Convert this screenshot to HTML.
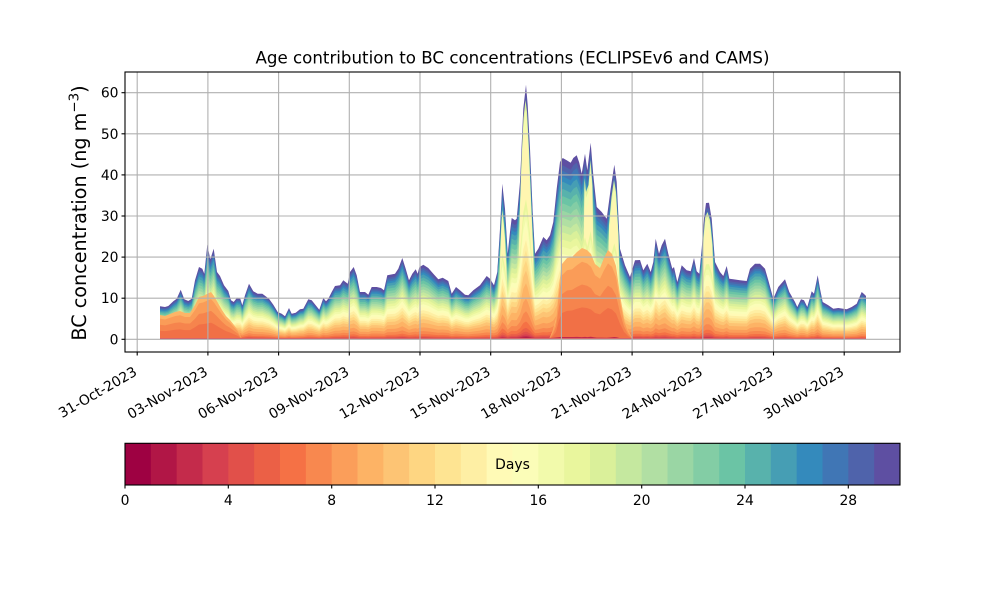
<!DOCTYPE html>
<html>
<head>
<meta charset="utf-8">
<style>
html,body{margin:0;padding:0;background:#fff;}
svg{display:block;}
text{font-family:"DejaVu Sans","Liberation Sans",sans-serif;fill:#000;}
</style>
</head>
<body>
<svg width="1000" height="600" viewBox="0 0 1000 600" xmlns="http://www.w3.org/2000/svg">
<rect x="0" y="0" width="1000" height="600" fill="#fff"/>
<defs>
<path id="T" d="M160,339.3 L160,306.3 L165,307 L168.3,306 L173.3,301.3 L176.7,298.7 L180.7,289.7 L184.3,299.3 L188.3,301 L191.7,298.7 L195,280.3 L199,267 L202.3,268.7 L204.3,273.7 L207.3,244.7 L210.3,259.3 L213.7,248.7 L217,272 L220,276 L224,285.3 L228.3,291 L231,300.3 L233.7,302 L237,297.7 L240.3,298.7 L242.3,305.3 L245,295.3 L249,283.7 L253.3,291.3 L257.7,293.7 L262.3,293.7 L269,298.7 L273.3,304.7 L277.7,312 L281.7,313.7 L285,316.3 L289,308 L291.7,313.7 L295.7,312.7 L300,309.3 L303.3,308.7 L308.3,299.3 L311.7,300.3 L315.7,305.3 L319.3,309.7 L323.3,298 L326,301.3 L328.3,298.7 L331.7,292 L335,286 L340,285.3 L343.3,280.3 L347.7,283.7 L350,272 L353.7,267 L356.7,275.3 L360,292 L365,292 L368.3,294.7 L371.7,287 L376.7,287 L381,288 L384,290.3 L387.3,275.3 L395,273.7 L398.3,268.7 L402.3,258 L405.7,268.7 L409,280.3 L412.3,273.7 L415.7,269.3 L417.7,273.7 L419.3,267.3 L423.3,264.7 L428.3,268 L433.3,273.7 L438.3,279.3 L442.7,277.7 L448.3,281 L451.7,293.7 L456,287 L460,290.3 L465,294.7 L468.3,295.3 L473.3,290.3 L480,285.3 L486.7,276 L490,278.7 L494,285.3 L497.3,272 L500,228.7 L502.3,183.7 L505,208.7 L507.7,253.7 L510,232 L511.7,218 L515,220.3 L516.7,218.7 L520,182 L523.3,108.7 L526,84.7 L527.7,105.3 L530,148.7 L532.7,212 L535,253.7 L538.3,248.7 L543.3,237 L546.7,240.3 L550,235.3 L553.3,222 L556.7,188.7 L560,162 L562.7,158 L566.7,160.3 L570.7,162.7 L573.3,158 L576.7,155.3 L579.3,162.7 L581.7,173.7 L585,153.7 L587.3,170.3 L590.7,142.7 L593.3,175.3 L596.7,207 L601.7,212 L606.7,218.7 L610.7,188.7 L614.3,164.7 L616.7,182 L620,248.7 L625,265.3 L630,277 L635,260.3 L640,260 L643.3,270.3 L647.3,263.7 L650.7,272 L653.3,262 L655.7,238.7 L659,253.7 L661.7,245.3 L665,238.7 L668.3,253.7 L672.3,268.7 L674,267 L677.3,282 L681.7,265.3 L686.7,270.3 L690.7,271.3 L694,258 L696.7,271.3 L699.3,273.7 L701.7,248.7 L704,218.7 L706,203 L709,202.7 L711.7,218.7 L715,262 L720,272 L723.3,276 L726.7,266 L729.3,278.7 L733.3,279.3 L740,280.3 L746.7,281 L750,268.7 L755,263.7 L760,263.7 L765,268.7 L768.3,280.3 L773.3,298.7 L778.3,287 L785,279.3 L789.3,292 L795,302 L797.3,307 L801,299.3 L804,300.3 L807.3,307 L811.7,291.3 L814,293.7 L817.7,275.3 L820,288.7 L822.7,302 L828.3,305.3 L833.3,308.7 L838.3,308 L843.3,308.7 L846.7,309.3 L851.7,307 L856.7,303.7 L861.7,292 L864,294 L866,296 L866,339.3 Z"/>
<path id="Y" d="M499,339.3 L500.3,250 L501.5,222 L502.3,210 L503.5,220 L505,238 L506.5,270 L507.3,339.3 Z
M518,339.3 L519.5,220 L521.5,160 L523.5,118 L525.5,100 L527,112 L529,150 L531,200 L533,245 L535,339.3 Z
M583,339.3 L584.5,178 L586,192 L588.5,185 L590.5,160 L592.5,186 L594,339.3 Z
M607,339.3 L609,225 L611.5,197 L614,180 L616,192 L618.5,235 L620,339.3 Z
M701,339.3 L703,245 L705,218 L707.5,212 L710,220 L712.5,245 L714.5,339.3 Z"/>
<path id="O" d="M549,339.3 L553,330 L556,318 L559,285 L562,264 L567,258 L572,257 L577,252 L582,248 L587,250 L591,254 L595,264 L600,268 L604,258 L608,250 L612,254 L616,266 L620,295 L624,318 L628,330 L633,339.3 Z
M160,339.3 L160,315 L165,316 L170,314 L175,312 L180,311 L185,313 L190,313 L195,305 L199,297 L203,296 L207,294 L211,292 L214,296 L218,303 L222,310 L226,316 L230,320 L234,325 L238,330 L242,339.3 Z"/>
</defs>

<!-- stacked age layers -->
<g>
<use href="#T" fill="#5e4fa2"/>
<use href="#T" fill="#4f63ab" transform="matrix(1,0,0,0.96,0,13.572)"/>
<use href="#T" fill="#4076b5" transform="matrix(1,0,0,0.93,0,23.751)"/>
<use href="#T" fill="#348abc" transform="matrix(1,0,0,0.90,0,33.93)"/>
<use href="#T" fill="#469eb4" transform="matrix(1,0,0,0.87,0,44.109)"/>
<use href="#T" fill="#58b2ac" transform="matrix(1,0,0,0.83,0,57.681)"/>
<use href="#T" fill="#6bc4a5" transform="matrix(1,0,0,0.79,0,71.253)"/>
<use href="#T" fill="#83cda5" transform="matrix(1,0,0,0.75,0,84.825)"/>
<use href="#T" fill="#9ad6a4" transform="matrix(1,0,0,0.71,0,98.397)"/>
<use href="#T" fill="#b1dfa3" transform="matrix(1,0,0,0.67,0,111.969)"/>
<use href="#T" fill="#c5e89f" transform="matrix(1,0,0,0.63,0,125.541)"/>
<use href="#T" fill="#daf09a" transform="matrix(1,0,0,0.59,0,139.113)"/>
<!-- yellow spike cores -->
<use href="#Y" fill="#dff2a0"/>
<use href="#Y" fill="#f6fbb0" transform="matrix(1,0,0,0.96,0,13.572)"/>
<use href="#Y" fill="#fff6b0" transform="matrix(1,0,0,0.88,0,40.716)"/>
<use href="#T" fill="#e9f69d" transform="matrix(1,0,0,0.55,0,152.685)"/>
<use href="#T" fill="#f2faab" transform="matrix(1,0,0,0.51,0,166.257)"/>
<use href="#T" fill="#fbfdb8" transform="matrix(1,0,0,0.47,0,179.829)"/>
<use href="#T" fill="#fffab6" transform="matrix(1,0,0,0.43,0,193.401)"/>
<use href="#T" fill="#feefa4" transform="matrix(1,0,0,0.39,0,206.973)"/>
<use href="#T" fill="#fee492" transform="matrix(1,0,0,0.35,0,220.545)"/>
<use href="#T" fill="#fed682" transform="matrix(1,0,0,0.31,0,234.117)"/>
<use href="#T" fill="#fdc474" transform="matrix(1,0,0,0.27,0,247.689)"/>
<use href="#T" fill="#fdb365" transform="matrix(1,0,0,0.22,0,264.654)"/>
<use href="#T" fill="#fb9e5a" transform="matrix(1,0,0,0.16,0,285.012)"/>
<use href="#T" fill="#f8884f" transform="matrix(1,0,0,0.11,0,301.977)"/>
<use href="#T" fill="#f57145" transform="matrix(1,0,0,0.07,0,315.549)"/>
<use href="#T" fill="#eb6046" transform="matrix(1,0,0,0.045,0,324.0315)"/>
<use href="#T" fill="#e1504a" transform="matrix(1,0,0,0.03,0,329.121)"/>
<use href="#T" fill="#d6404f" transform="matrix(1,0,0,0.02,0,332.514)"/>
<!-- orange cores -->
<use href="#O" fill="#fdb567"/>
<use href="#O" fill="#fa9c58" transform="matrix(1,0,0,0.85,0,50.895)"/>
<use href="#O" fill="#f6844d" transform="matrix(1,0,0,0.6,0,135.72)"/>
<use href="#O" fill="#f17046" transform="matrix(1,0,0,0.35,0,220.545)"/>
<use href="#T" fill="#c42b4b" transform="matrix(1,0,0,0.013,0,334.8891)"/>
<use href="#T" fill="#b11646" transform="matrix(1,0,0,0.008,0,336.5856)"/>
<use href="#T" fill="#9e0142" transform="matrix(1,0,0,0.004,0,337.9428)"/>
<rect x="160" y="338" width="706" height="1.6" fill="#de4d55"/>
</g>

<!-- grid -->
<g stroke="#b0b0b0" stroke-width="1.1" fill="none">
<line x1="125" y1="339.3" x2="900" y2="339.3"/>
<line x1="125" y1="298.2" x2="900" y2="298.2"/>
<line x1="125" y1="257.1" x2="900" y2="257.1"/>
<line x1="125" y1="216" x2="900" y2="216"/>
<line x1="125" y1="174.9" x2="900" y2="174.9"/>
<line x1="125" y1="133.8" x2="900" y2="133.8"/>
<line x1="125" y1="92.7" x2="900" y2="92.7"/>
<line x1="137.2" y1="72" x2="137.2" y2="352"/>
<line x1="207.9" y1="72" x2="207.9" y2="352"/>
<line x1="278.6" y1="72" x2="278.6" y2="352"/>
<line x1="349.3" y1="72" x2="349.3" y2="352"/>
<line x1="420" y1="72" x2="420" y2="352"/>
<line x1="490.7" y1="72" x2="490.7" y2="352"/>
<line x1="561.4" y1="72" x2="561.4" y2="352"/>
<line x1="632.1" y1="72" x2="632.1" y2="352"/>
<line x1="702.8" y1="72" x2="702.8" y2="352"/>
<line x1="773.5" y1="72" x2="773.5" y2="352"/>
<line x1="844.2" y1="72" x2="844.2" y2="352"/>
</g>

<!-- axes frame -->
<rect x="125" y="72" width="775" height="280" fill="none" stroke="#000" stroke-width="1.1"/>

<!-- ticks -->
<g stroke="#000" stroke-width="1.1">
<line x1="125" y1="339.3" x2="121.5" y2="339.3"/>
<line x1="125" y1="298.2" x2="121.5" y2="298.2"/>
<line x1="125" y1="257.1" x2="121.5" y2="257.1"/>
<line x1="125" y1="216" x2="121.5" y2="216"/>
<line x1="125" y1="174.9" x2="121.5" y2="174.9"/>
<line x1="125" y1="133.8" x2="121.5" y2="133.8"/>
<line x1="125" y1="92.7" x2="121.5" y2="92.7"/>
<line x1="137.2" y1="352" x2="137.2" y2="355.5"/>
<line x1="207.9" y1="352" x2="207.9" y2="355.5"/>
<line x1="278.6" y1="352" x2="278.6" y2="355.5"/>
<line x1="349.3" y1="352" x2="349.3" y2="355.5"/>
<line x1="420" y1="352" x2="420" y2="355.5"/>
<line x1="490.7" y1="352" x2="490.7" y2="355.5"/>
<line x1="561.4" y1="352" x2="561.4" y2="355.5"/>
<line x1="632.1" y1="352" x2="632.1" y2="355.5"/>
<line x1="702.8" y1="352" x2="702.8" y2="355.5"/>
<line x1="773.5" y1="352" x2="773.5" y2="355.5"/>
<line x1="844.2" y1="352" x2="844.2" y2="355.5"/>
</g>

<!-- y tick labels -->
<g font-size="13.9" text-anchor="end">
<text x="118.5" y="344.3">0</text>
<text x="118.5" y="303.2">10</text>
<text x="118.5" y="262.1">20</text>
<text x="118.5" y="221">30</text>
<text x="118.5" y="179.9">40</text>
<text x="118.5" y="138.8">50</text>
<text x="118.5" y="97.7">60</text>
</g>

<!-- x tick labels -->
<g font-size="13.9" text-anchor="end">
<text transform="translate(137.9,374.5) rotate(-30)">31-Oct-2023</text>
<text transform="translate(208.6,374.5) rotate(-30)">03-Nov-2023</text>
<text transform="translate(279.3,374.5) rotate(-30)">06-Nov-2023</text>
<text transform="translate(350,374.5) rotate(-30)">09-Nov-2023</text>
<text transform="translate(420.7,374.5) rotate(-30)">12-Nov-2023</text>
<text transform="translate(491.4,374.5) rotate(-30)">15-Nov-2023</text>
<text transform="translate(562.1,374.5) rotate(-30)">18-Nov-2023</text>
<text transform="translate(632.8,374.5) rotate(-30)">21-Nov-2023</text>
<text transform="translate(703.5,374.5) rotate(-30)">24-Nov-2023</text>
<text transform="translate(774.2,374.5) rotate(-30)">27-Nov-2023</text>
<text transform="translate(844.9,374.5) rotate(-30)">30-Nov-2023</text>
</g>

<!-- title -->
<text x="512.5" y="63.5" font-size="16.67" text-anchor="middle">Age contribution to BC concentrations (ECLIPSEv6 and CAMS)</text>

<!-- y label -->
<text transform="translate(86,213) rotate(-90)" font-size="19.2" text-anchor="middle">BC concentration (ng m<tspan dy="-7.5" font-size="13.4">−3</tspan><tspan dy="7.5">)</tspan></text>

<!-- colorbar -->
<g>
<rect x="125" y="443.3" width="26.2" height="41.7" fill="#9e0142"/>
<rect x="150.83" y="443.3" width="26.2" height="41.7" fill="#b11646"/>
<rect x="176.67" y="443.3" width="26.2" height="41.7" fill="#c42b4b"/>
<rect x="202.5" y="443.3" width="26.2" height="41.7" fill="#d6404f"/>
<rect x="228.33" y="443.3" width="26.2" height="41.7" fill="#e1504a"/>
<rect x="254.17" y="443.3" width="26.2" height="41.7" fill="#eb6046"/>
<rect x="280" y="443.3" width="26.2" height="41.7" fill="#f57145"/>
<rect x="305.83" y="443.3" width="26.2" height="41.7" fill="#f8884f"/>
<rect x="331.67" y="443.3" width="26.2" height="41.7" fill="#fb9e5a"/>
<rect x="357.5" y="443.3" width="26.2" height="41.7" fill="#fdb365"/>
<rect x="383.33" y="443.3" width="26.2" height="41.7" fill="#fdc474"/>
<rect x="409.17" y="443.3" width="26.2" height="41.7" fill="#fed682"/>
<rect x="435" y="443.3" width="26.2" height="41.7" fill="#fee492"/>
<rect x="460.83" y="443.3" width="26.2" height="41.7" fill="#feefa4"/>
<rect x="486.67" y="443.3" width="26.2" height="41.7" fill="#fffab6"/>
<rect x="512.5" y="443.3" width="26.2" height="41.7" fill="#fbfdb8"/>
<rect x="538.33" y="443.3" width="26.2" height="41.7" fill="#f2faab"/>
<rect x="564.17" y="443.3" width="26.2" height="41.7" fill="#e9f69d"/>
<rect x="590" y="443.3" width="26.2" height="41.7" fill="#daf09a"/>
<rect x="615.83" y="443.3" width="26.2" height="41.7" fill="#c5e89f"/>
<rect x="641.67" y="443.3" width="26.2" height="41.7" fill="#b1dfa3"/>
<rect x="667.5" y="443.3" width="26.2" height="41.7" fill="#9ad6a4"/>
<rect x="693.33" y="443.3" width="26.2" height="41.7" fill="#83cda5"/>
<rect x="719.17" y="443.3" width="26.2" height="41.7" fill="#6bc4a5"/>
<rect x="745" y="443.3" width="26.2" height="41.7" fill="#58b2ac"/>
<rect x="770.83" y="443.3" width="26.2" height="41.7" fill="#469eb4"/>
<rect x="796.67" y="443.3" width="26.2" height="41.7" fill="#348abc"/>
<rect x="822.5" y="443.3" width="26.2" height="41.7" fill="#4076b5"/>
<rect x="848.33" y="443.3" width="26.2" height="41.7" fill="#4f63ab"/>
<rect x="874.17" y="443.3" width="25.83" height="41.7" fill="#5e4fa2"/>
</g>
<rect x="125" y="443.3" width="775" height="41.7" fill="none" stroke="#000" stroke-width="1.1"/>
<text x="512.5" y="469" font-size="13.9" text-anchor="middle">Days</text>
<g stroke="#000" stroke-width="1.1">
<line x1="125" y1="485" x2="125" y2="488.5"/>
<line x1="228.3" y1="485" x2="228.3" y2="488.5"/>
<line x1="331.7" y1="485" x2="331.7" y2="488.5"/>
<line x1="435" y1="485" x2="435" y2="488.5"/>
<line x1="538.3" y1="485" x2="538.3" y2="488.5"/>
<line x1="641.7" y1="485" x2="641.7" y2="488.5"/>
<line x1="745" y1="485" x2="745" y2="488.5"/>
<line x1="848.3" y1="485" x2="848.3" y2="488.5"/>
</g>
<g font-size="13.9" text-anchor="middle">
<text x="125" y="505">0</text>
<text x="228.3" y="505">4</text>
<text x="331.7" y="505">8</text>
<text x="435" y="505">12</text>
<text x="538.3" y="505">16</text>
<text x="641.7" y="505">20</text>
<text x="745" y="505">24</text>
<text x="848.3" y="505">28</text>
</g>
</svg>
</body>
</html>
